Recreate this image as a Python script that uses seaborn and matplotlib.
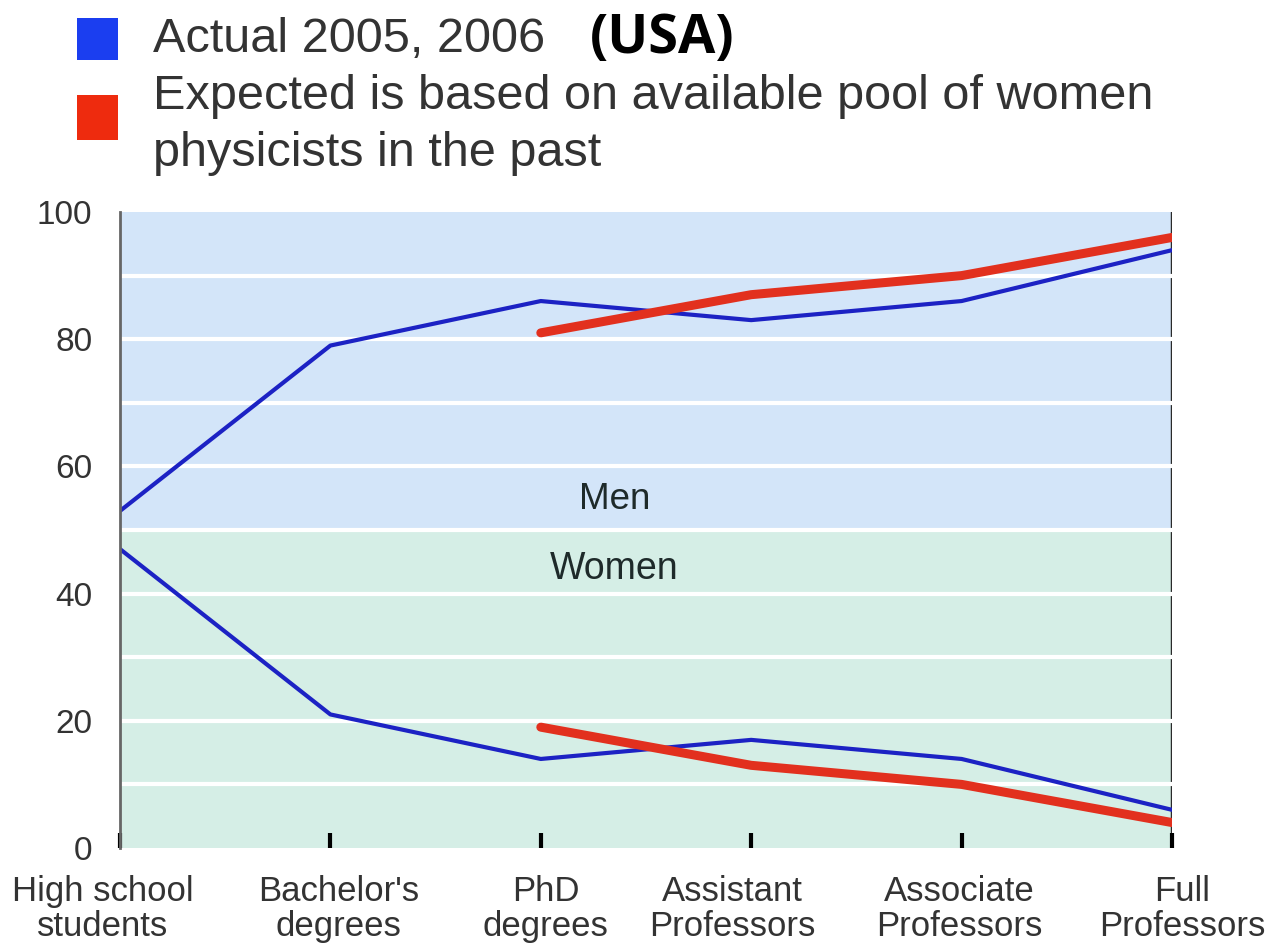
import matplotlib
matplotlib.use("Agg")
import matplotlib.pyplot as plt
import matplotlib.transforms as mtransforms
from matplotlib.patches import Rectangle
import seaborn as sns
import pandas as pd

# ---- data ----
categories = ["High school\nstudents", "Bachelor's\ndegrees", "PhD\ndegrees",
              "Assistant\nProfessors", "Associate\nProfessors", "Full\nProfessors"]
men_actual = [53, 79, 86, 83, 86, 94]
women_actual = [47, 21, 14, 17, 14, 6]
expected_categories = ["PhD\ndegrees", "Assistant\nProfessors",
                       "Associate\nProfessors", "Full\nProfessors"]
men_expected = [81, 87, 90, 96]
women_expected = [19, 13, 10, 4]
y_ticks = [0, 20, 40, 60, 80, 100]
legend_labels = ["Actual 2005, 2006",
                 "Expected is based on available pool of women\nphysicists in the past"]
region_labels = ["Men", "Women"]

# ---- style ----
sns.set_theme(style="white")
plt.rcParams['font.family'] = ['Liberation Sans', 'DejaVu Sans']

BLUE_LINE = "#1c22c4"
RED_LINE = "#e2301e"
BG_MEN = "#d3e5f9"
BG_WOMEN = "#d5eee6"
LEG_BLUE = "#1b3ef0"
LEG_RED = "#ee2b0e"
TXT = "#333333"

W, H = 1268, 946
fig = plt.figure(figsize=(W / 100, H / 100), dpi=100)
ax = fig.add_axes([120 / W, 98 / H, 1052 / W, 636 / H])

pos = list(range(len(categories)))
exp_pos = [categories.index(c) for c in expected_categories]

df_actual = pd.DataFrame({
    "pos": pos + pos,
    "value": men_actual + women_actual,
    "group": ["Men"] * len(pos) + ["Women"] * len(pos),
})
df_expected = pd.DataFrame({
    "pos": exp_pos + exp_pos,
    "value": men_expected + women_expected,
    "group": ["Men"] * len(exp_pos) + ["Women"] * len(exp_pos),
})

# backgrounds
ax.axhspan(50, 100, color=BG_MEN, zorder=0, lw=0)
ax.axhspan(0, 50, color=BG_WOMEN, zorder=0, lw=0)
# right vertical line (under the grid)
ax.axvline(pos[-1], color="#2a2a2a", lw=2.5, zorder=0.5)
# white gridlines
for yv in range(10, 100, 10):
    ax.axhline(yv, color="white", lw=3, zorder=1)

sns.lineplot(data=df_actual, x="pos", y="value", units="group", estimator=None,
             color=BLUE_LINE, lw=3, ax=ax, zorder=3, legend=False)
sns.lineplot(data=df_expected, x="pos", y="value", units="group", estimator=None,
             color=RED_LINE, lw=6.5, ax=ax, zorder=4, legend=False)

ax.set_xlim(pos[0], pos[-1])
ax.set_ylim(0, 100)
ax.set_xlabel("")
ax.set_ylabel("")

ax.set_yticks(y_ticks)
ax.set_yticklabels([str(v) for v in y_ticks], fontsize=24, color=TXT)
ax.tick_params(axis="y", length=0, pad=20)

ax.set_xticks(pos)
ax.set_xticklabels(categories, fontsize=25, color=TXT, linespacing=1.09)
ax.tick_params(axis="x", direction="in", length=11, width=3, color="black", pad=19.5)
ax.xaxis.set_ticks_position("bottom")

# shift x labels slightly, like the reference
offs = [-17, 8, 5, -19, -2, 10]
for lab, dx in zip(ax.get_xticklabels(), offs):
    lab.set_transform(lab.get_transform() +
                      mtransforms.ScaledTranslation(dx / 100, 0, fig.dpi_scale_trans))

for s in ["top", "right", "bottom"]:
    ax.spines[s].set_visible(False)
ax.spines["left"].set_color("#666666")
ax.spines["left"].set_linewidth(2)
ax.spines["left"].set_zorder(5)

# region labels
ax.text(2.35, 54.8, region_labels[0], ha="center", va="center", fontsize=26.5, color="#1e2a2a", zorder=5)
ax.text(2.35, 43.9, region_labels[1], ha="center", va="center", fontsize=27, color="#1e2a2a", zorder=5)

# legend (manual)
fig.add_artist(Rectangle((77 / W, 1 - 60 / H), 41 / W, 42 / H,
                         transform=fig.transFigure, color=LEG_BLUE, lw=0))
fig.add_artist(Rectangle((77 / W, 1 - 140 / H), 41 / W, 45 / H,
                         transform=fig.transFigure, color=LEG_RED, lw=0))
fig.text(153 / W, 1 - 40 / H, legend_labels[0], fontsize=35, color=TXT, va="center", ha="left")
fig.text(153 / W, 1 - 125 / H, legend_labels[1], fontsize=35, color=TXT, va="center", ha="left",
         linespacing=1.35)
fig.text(590 / W, 1 - 39 / H, "(USA)", fontsize=39, color="black", va="center", ha="left",
         fontweight="bold", family=["Open Sans", "DejaVu Sans"])

fig.savefig("out.png", dpi=100, facecolor="white")
